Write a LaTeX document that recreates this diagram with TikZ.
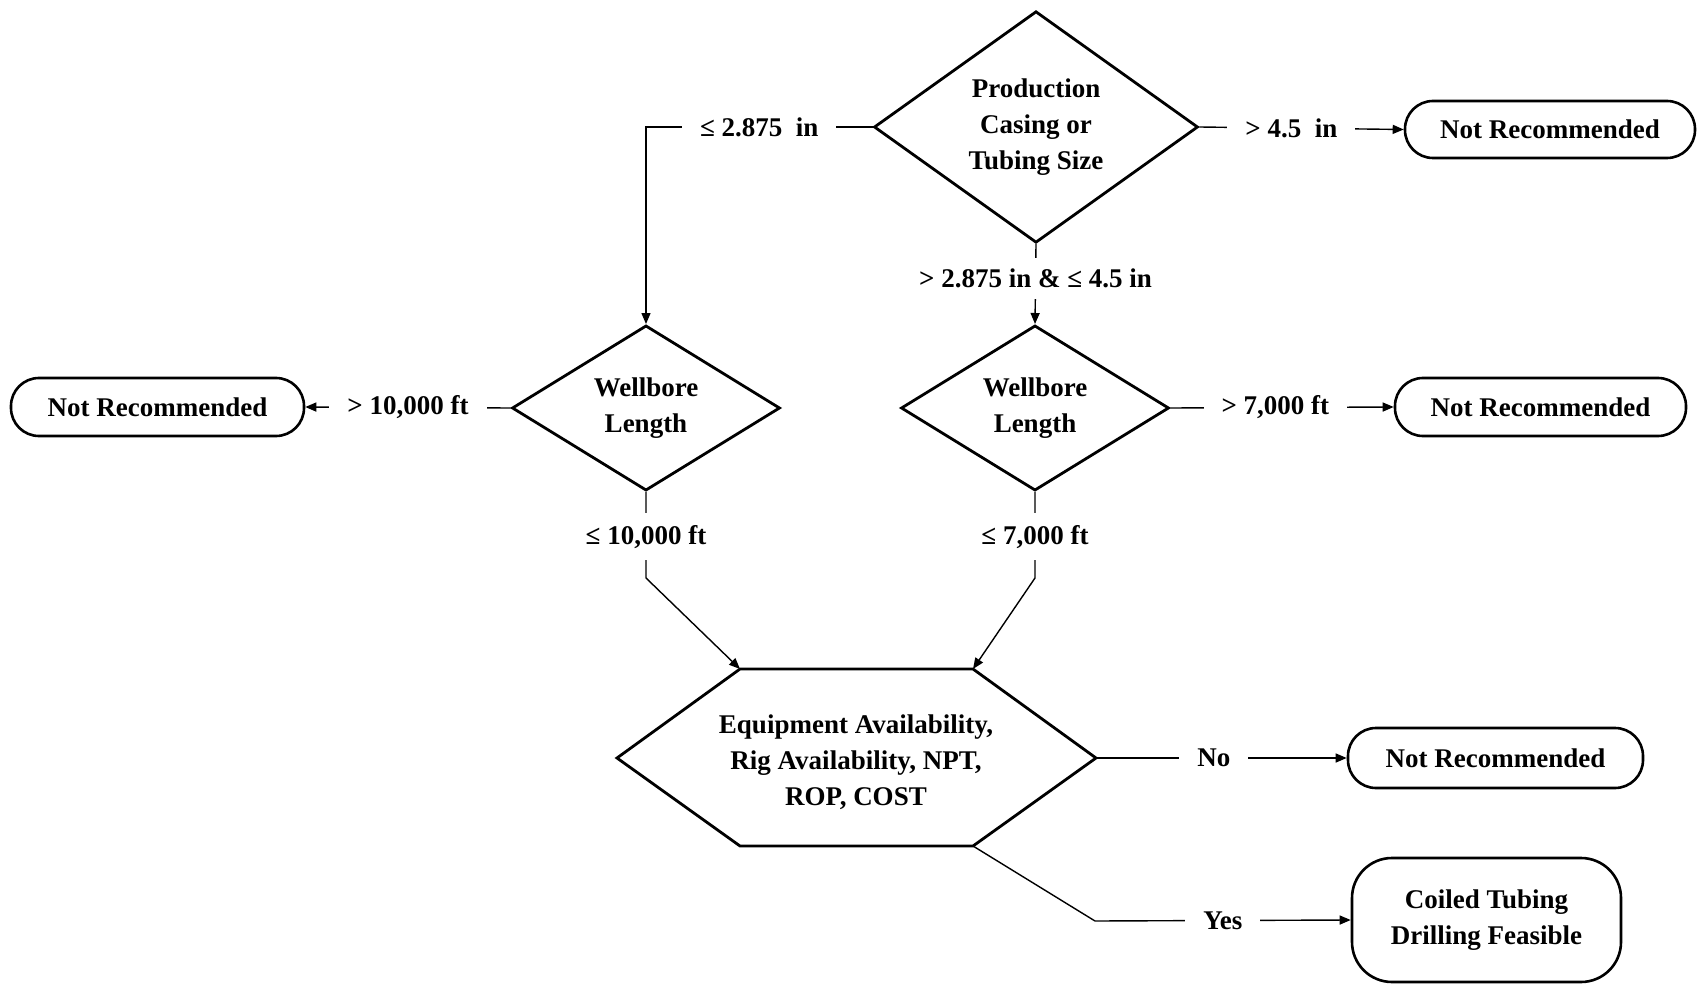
\documentclass[tikz,border=0pt]{standalone}
\usepackage{fontspec}
\setmainfont{Liberation Serif}
\usetikzlibrary{shapes.geometric,arrows.meta}
\begin{document}
\begin{tikzpicture}[x=1pt,y=-1pt,
  every node/.style={font=\fontsize{27}{36}\selectfont\bfseries},
  dec/.style={draw,diamond,line width=2.8pt,inner sep=0pt,align=center},
  term/.style={draw,rounded corners=28pt,line width=2.6pt,inner sep=0pt,align=center},
  lbl/.style={fill=white,inner xsep=18pt,inner ysep=9pt},
  conn/.style={line width=1.4pt},
  arr/.style={conn,-{Triangle[length=11pt,width=9pt]}}]
\useasboundingbox (0,0) rectangle (1698,984);
% decision nodes
\node[dec,minimum width=324pt,minimum height=230pt] (d1) at (1036,127) {Production\\Casing or\\Tubing Size};
\node[dec,minimum width=268pt,minimum height=158pt] (d2) at (646,408) {Wellbore\\Length};
\node[dec,minimum width=268pt,minimum height=158pt] (d3) at (1035,408) {Wellbore\\Length};
% terminal nodes
\node[term,minimum width=290pt,minimum height=57pt] (nr1) at (1550,129.5) {Not Recommended};
\node[term,minimum width=293pt,minimum height=58pt] (nr2) at (157.5,407) {Not Recommended};
\node[term,minimum width=291pt,minimum height=58pt] (nr3) at (1540.5,407) {Not Recommended};
\node[term,minimum width=295pt,minimum height=60pt] (nr4) at (1495.5,758) {Not Recommended};
\node[term,rounded corners=40pt,minimum width=269pt,minimum height=124pt] (ct) at (1486.5,920) {Coiled Tubing\\Drilling Feasible};
% hexagon
\coordinate (htl) at (740,669);
\coordinate (htr) at (973,669);
\coordinate (hr) at (1096,758);
\coordinate (hbr) at (973,846);
\coordinate (hbl) at (740,846);
\coordinate (hl) at (617,758);
\draw[line width=2.8pt,line join=miter] (htl) -- (htr) -- (hr) -- (hbr) -- (hbl) -- (hl) -- cycle;
\node[align=center] (hex) at (856,762) {Equipment Availability,\\Rig Availability, NPT,\\ROP, COST};
% bend points
\coordinate (c1) at (d2.north |- d1.west);
\coordinate (c2) at (646,578);
\coordinate (c3) at (1035,578);
\coordinate (c4) at (1095,921);
% connectors
\draw[arr] (d1.west) -- node[lbl]{≤ 2.875\ \ in} (c1) -- (d2.north);
\draw[arr] (d1.east) -- node[lbl,pos=0.45]{> 4.5\ \ in} (nr1.west);
\draw[arr] (d1.south) -- node[lbl,pos=0.43,inner ysep=11pt]{> 2.875 in \& ≤ 4.5 in} (d3.north);
\draw[arr] (d2.west) -- node[lbl]{> 10,000 ft} (nr2.east);
\draw[arr] (d3.east) -- node[lbl,pos=0.47]{> 7,000 ft} (nr3.west);
\draw[arr] (d2.south) -- node[lbl,pos=0.52,inner ysep=12pt]{≤ 10,000 ft} (c2) -- (htl);
\draw[arr] (d3.south) -- node[lbl,pos=0.52,inner ysep=12pt]{≤ 7,000 ft} (c3) -- (htr);
\draw[arr] (hr) -- node[lbl,pos=0.47]{No} (nr4.west);
\draw[conn] (hbr) -- (c4);
\draw[arr] (c4) -- node[lbl,pos=0.5]{Yes} (ct.west);
\end{tikzpicture}
\end{document}
